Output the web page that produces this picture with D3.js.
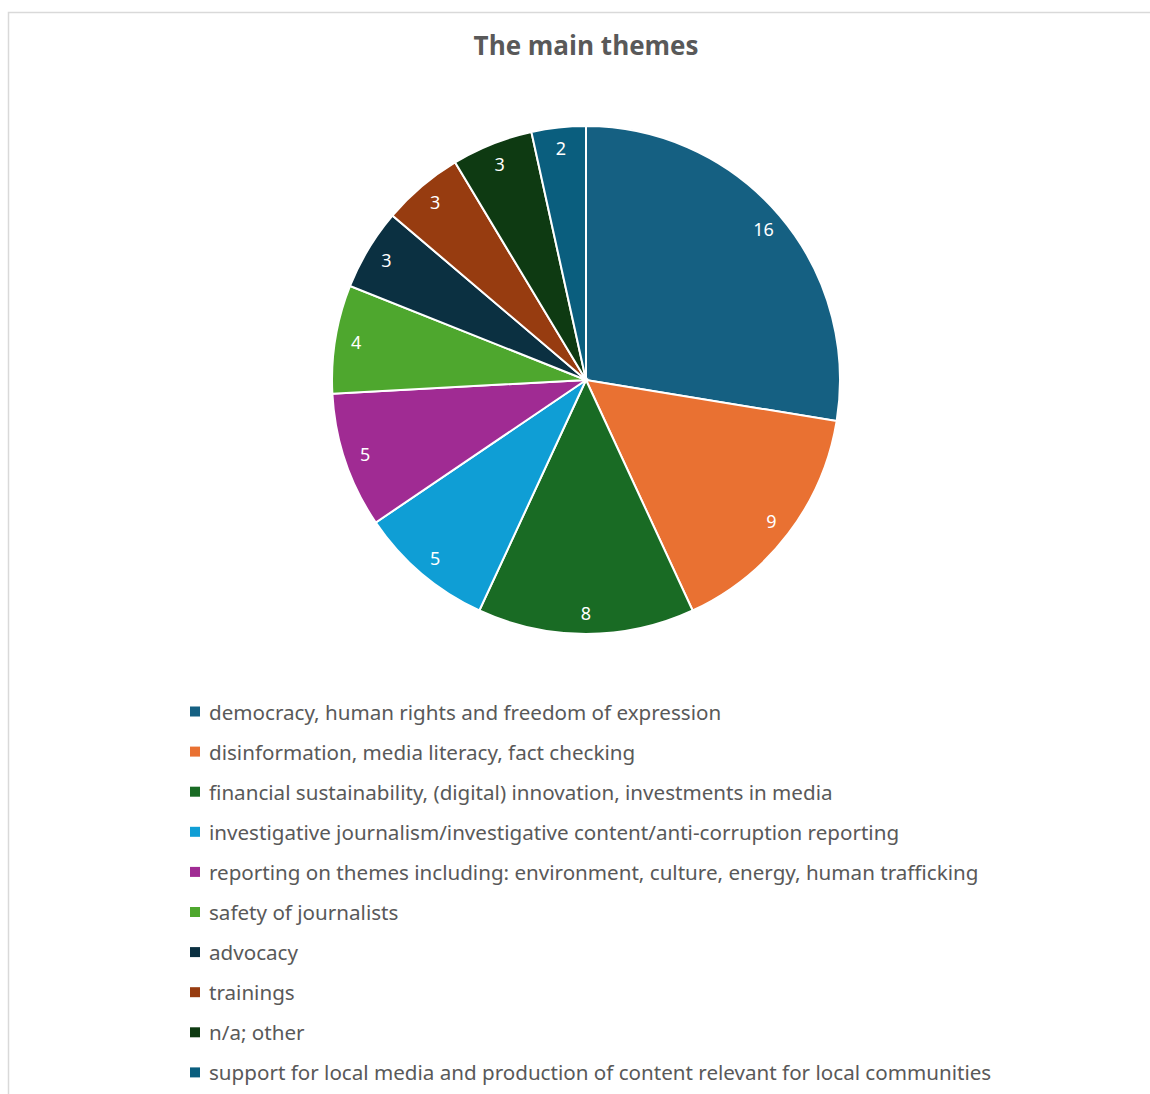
<!DOCTYPE html>
<html>
<head>
<meta charset="utf-8">
<script src="https://cdn.jsdelivr.net/npm/d3@7"></script>
<style>
  body { margin: 0; background: #fff; }
  svg { display: block; }
</style>
</head>
<body>
<div id="chart"></div>
<script>
// données
const categories = [
  "democracy, human rights and freedom of expression",
  "disinformation, media literacy, fact checking",
  "financial sustainability, (digital) innovation, investments in media",
  "investigative journalism/investigative content/anti-corruption reporting",
  "reporting on themes including: environment, culture, energy, human trafficking",
  "safety of journalists",
  "advocacy",
  "trainings",
  "n/a; other",
  "support for local media and production of content relevant for local communities"
];
const values = [16, 9, 8, 5, 5, 4, 3, 3, 3, 2];
const colors = ["#156082", "#e97132", "#196b24", "#0f9ed5", "#a02b93",
                "#4ea72e", "#0b3041", "#973c10", "#0e3a12", "#0a5e7e"];

const width = 1150, height = 1094;
const cx = 586, cy = 380, radius = 254;

const svg = d3.select("#chart").append("svg")
  .attr("width", width).attr("height", height);

// cadre du graphique
svg.append("rect")
  .attr("x", 8.5).attr("y", 12.5)
  .attr("width", width + 10).attr("height", height + 10)
  .attr("fill", "#fff").attr("stroke", "#d9d9d9").attr("stroke-width", 1.5);

// titre
svg.append("text")
  .attr("x", cx).attr("y", 55)
  .attr("text-anchor", "middle")
  .style("font-family", "'Open Sans', 'Noto Sans', sans-serif")
  .style("font-size", "26px").style("font-weight", "bold")
  .style("fill", "#595959")
  .text("The main themes");

// camembert
const pie = d3.pie().sort(null).value(d => d);
const arc = d3.arc().innerRadius(0).outerRadius(radius);
const labelArc = d3.arc().innerRadius(233).outerRadius(233);

const g = svg.append("g").attr("transform", `translate(${cx},${cy})`);
const arcs = pie(values);

g.selectAll("path.slice").data(arcs).enter().append("path")
  .attr("class", "slice")
  .attr("d", arc)
  .attr("fill", (d, i) => colors[i])
  .attr("stroke", "#fff").attr("stroke-width", 2);

g.selectAll("text.lbl").data(arcs).enter().append("text")
  .attr("class", "lbl")
  .attr("transform", d => `translate(${labelArc.centroid(d)})`)
  .attr("text-anchor", "middle").attr("dominant-baseline", "central")
  .style("font-family", "'Noto Sans', sans-serif")
  .style("font-size", "18px").style("fill", "#fff")
  .text(d => d.data);

// légende
const legend = svg.append("g").attr("transform", "translate(190,711.5)");
const items = legend.selectAll("g").data(categories).enter().append("g")
  .attr("transform", (d, i) => `translate(0,${i * 40.1})`);

items.append("rect")
  .attr("x", 0).attr("y", -5).attr("width", 10).attr("height", 10)
  .attr("fill", (d, i) => colors[i]);

items.append("text")
  .attr("x", 19).attr("y", 0)
  .attr("dominant-baseline", "central")
  .style("font-family", "'Noto Sans', sans-serif")
  .style("font-size", "20.6px").style("fill", "#595959")
  .text(d => d);
</script>
</body>
</html>
